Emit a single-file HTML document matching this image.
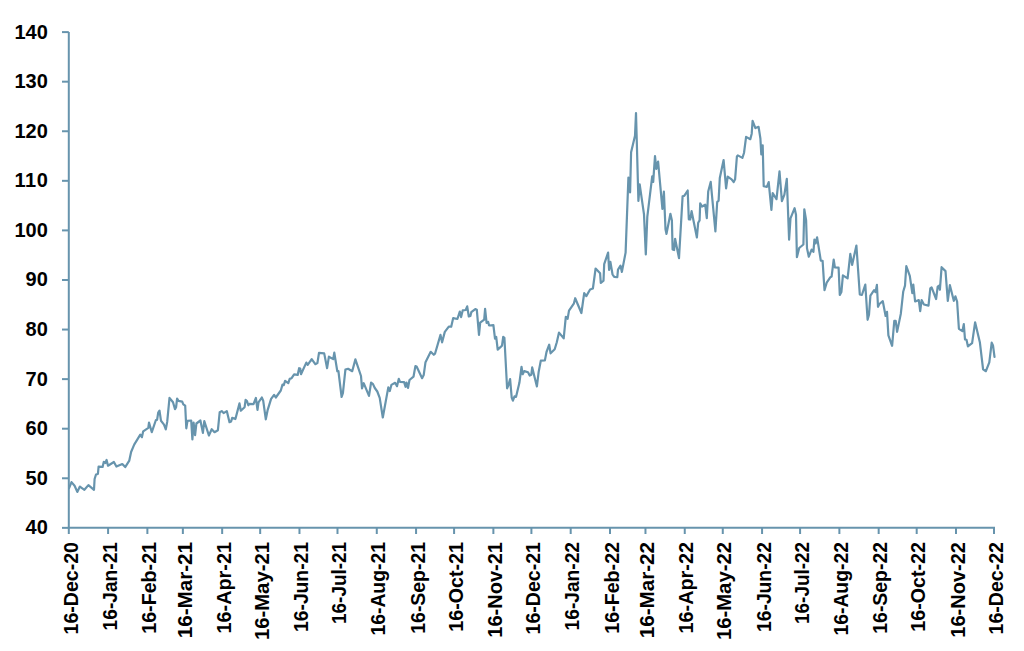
<!DOCTYPE html>
<html><head><meta charset="utf-8"><style>
html,body{margin:0;padding:0;background:#fff;width:1024px;height:651px;overflow:hidden}
svg{display:block}
text{font-family:"Liberation Sans",sans-serif;font-weight:bold;fill:#000}
.yl{font-size:20px}
.xl{font-size:20px}
</style></head><body>
<svg width="1024" height="651" viewBox="0 0 1024 651">
<line x1="68.8" y1="32.1" x2="68.8" y2="527.85" stroke="#6794ad" stroke-width="2"/>
<line x1="67.8" y1="527.85" x2="995.0" y2="527.85" stroke="#6794ad" stroke-width="2"/>
<line x1="62" y1="527.85" x2="68.8" y2="527.85" stroke="#6794ad" stroke-width="2"/>
<text x="47.8" y="527.25" text-anchor="end" dominant-baseline="central" class="yl">40</text>
<line x1="62" y1="478.28" x2="68.8" y2="478.28" stroke="#6794ad" stroke-width="2"/>
<text x="47.8" y="477.68" text-anchor="end" dominant-baseline="central" class="yl">50</text>
<line x1="62" y1="428.70" x2="68.8" y2="428.70" stroke="#6794ad" stroke-width="2"/>
<text x="47.8" y="428.10" text-anchor="end" dominant-baseline="central" class="yl">60</text>
<line x1="62" y1="379.12" x2="68.8" y2="379.12" stroke="#6794ad" stroke-width="2"/>
<text x="47.8" y="378.52" text-anchor="end" dominant-baseline="central" class="yl">70</text>
<line x1="62" y1="329.55" x2="68.8" y2="329.55" stroke="#6794ad" stroke-width="2"/>
<text x="47.8" y="328.95" text-anchor="end" dominant-baseline="central" class="yl">80</text>
<line x1="62" y1="279.98" x2="68.8" y2="279.98" stroke="#6794ad" stroke-width="2"/>
<text x="47.8" y="279.38" text-anchor="end" dominant-baseline="central" class="yl">90</text>
<line x1="62" y1="230.40" x2="68.8" y2="230.40" stroke="#6794ad" stroke-width="2"/>
<text x="47.8" y="229.80" text-anchor="end" dominant-baseline="central" class="yl">100</text>
<line x1="62" y1="180.83" x2="68.8" y2="180.83" stroke="#6794ad" stroke-width="2"/>
<text x="47.8" y="180.23" text-anchor="end" dominant-baseline="central" class="yl" textLength="33.375">110</text>
<line x1="62" y1="131.25" x2="68.8" y2="131.25" stroke="#6794ad" stroke-width="2"/>
<text x="47.8" y="130.65" text-anchor="end" dominant-baseline="central" class="yl">120</text>
<line x1="62" y1="81.68" x2="68.8" y2="81.68" stroke="#6794ad" stroke-width="2"/>
<text x="47.8" y="81.08" text-anchor="end" dominant-baseline="central" class="yl">130</text>
<line x1="62" y1="32.10" x2="68.8" y2="32.10" stroke="#6794ad" stroke-width="2"/>
<text x="47.8" y="31.50" text-anchor="end" dominant-baseline="central" class="yl">140</text>
<line x1="68.80" y1="527.85" x2="68.80" y2="534" stroke="#6794ad" stroke-width="2"/>
<text transform="translate(77.50,542.0) rotate(-90)" text-anchor="end" class="xl" textLength="92.42" lengthAdjust="spacingAndGlyphs">16-Dec-20</text>
<line x1="108.09" y1="527.85" x2="108.09" y2="534" stroke="#6794ad" stroke-width="2"/>
<text transform="translate(116.79,542.0) rotate(-90)" text-anchor="end" class="xl" textLength="88.38" lengthAdjust="spacingAndGlyphs">16-Jan-21</text>
<line x1="147.38" y1="527.85" x2="147.38" y2="534" stroke="#6794ad" stroke-width="2"/>
<text transform="translate(156.08,542.0) rotate(-90)" text-anchor="end" class="xl" textLength="91.78" lengthAdjust="spacingAndGlyphs">16-Feb-21</text>
<line x1="182.87" y1="527.85" x2="182.87" y2="534" stroke="#6794ad" stroke-width="2"/>
<text transform="translate(191.57,542.0) rotate(-90)" text-anchor="end" class="xl" textLength="96.29" lengthAdjust="spacingAndGlyphs">16-Mar-21</text>
<line x1="222.16" y1="527.85" x2="222.16" y2="534" stroke="#6794ad" stroke-width="2"/>
<text transform="translate(230.86,542.0) rotate(-90)" text-anchor="end" class="xl" textLength="91.47" lengthAdjust="spacingAndGlyphs">16-Apr-21</text>
<line x1="260.18" y1="527.85" x2="260.18" y2="534" stroke="#6794ad" stroke-width="2"/>
<text transform="translate(268.88,542.0) rotate(-90)" text-anchor="end" class="xl" textLength="98.12" lengthAdjust="spacingAndGlyphs">16-May-21</text>
<line x1="299.47" y1="527.85" x2="299.47" y2="534" stroke="#6794ad" stroke-width="2"/>
<text transform="translate(308.17,542.0) rotate(-90)" text-anchor="end" class="xl" textLength="89.97" lengthAdjust="spacingAndGlyphs">16-Jun-21</text>
<line x1="337.49" y1="527.85" x2="337.49" y2="534" stroke="#6794ad" stroke-width="2"/>
<text transform="translate(346.19,542.0) rotate(-90)" text-anchor="end" class="xl" textLength="81.92" lengthAdjust="spacingAndGlyphs">16-Jul-21</text>
<line x1="376.78" y1="527.85" x2="376.78" y2="534" stroke="#6794ad" stroke-width="2"/>
<text transform="translate(385.48,542.0) rotate(-90)" text-anchor="end" class="xl" textLength="93.60" lengthAdjust="spacingAndGlyphs">16-Aug-21</text>
<line x1="416.07" y1="527.85" x2="416.07" y2="534" stroke="#6794ad" stroke-width="2"/>
<text transform="translate(424.77,542.0) rotate(-90)" text-anchor="end" class="xl" textLength="91.70" lengthAdjust="spacingAndGlyphs">16-Sep-21</text>
<line x1="454.09" y1="527.85" x2="454.09" y2="534" stroke="#6794ad" stroke-width="2"/>
<text transform="translate(462.79,542.0) rotate(-90)" text-anchor="end" class="xl" textLength="89.76" lengthAdjust="spacingAndGlyphs">16-Oct-21</text>
<line x1="493.38" y1="527.85" x2="493.38" y2="534" stroke="#6794ad" stroke-width="2"/>
<text transform="translate(502.08,542.0) rotate(-90)" text-anchor="end" class="xl" textLength="95.71" lengthAdjust="spacingAndGlyphs">16-Nov-21</text>
<line x1="531.40" y1="527.85" x2="531.40" y2="534" stroke="#6794ad" stroke-width="2"/>
<text transform="translate(540.10,542.0) rotate(-90)" text-anchor="end" class="xl" textLength="92.42" lengthAdjust="spacingAndGlyphs">16-Dec-21</text>
<line x1="570.69" y1="527.85" x2="570.69" y2="534" stroke="#6794ad" stroke-width="2"/>
<text transform="translate(579.39,542.0) rotate(-90)" text-anchor="end" class="xl" textLength="88.38" lengthAdjust="spacingAndGlyphs">16-Jan-22</text>
<line x1="609.98" y1="527.85" x2="609.98" y2="534" stroke="#6794ad" stroke-width="2"/>
<text transform="translate(618.68,542.0) rotate(-90)" text-anchor="end" class="xl" textLength="91.78" lengthAdjust="spacingAndGlyphs">16-Feb-22</text>
<line x1="645.47" y1="527.85" x2="645.47" y2="534" stroke="#6794ad" stroke-width="2"/>
<text transform="translate(654.17,542.0) rotate(-90)" text-anchor="end" class="xl" textLength="96.29" lengthAdjust="spacingAndGlyphs">16-Mar-22</text>
<line x1="684.76" y1="527.85" x2="684.76" y2="534" stroke="#6794ad" stroke-width="2"/>
<text transform="translate(693.46,542.0) rotate(-90)" text-anchor="end" class="xl" textLength="91.47" lengthAdjust="spacingAndGlyphs">16-Apr-22</text>
<line x1="722.78" y1="527.85" x2="722.78" y2="534" stroke="#6794ad" stroke-width="2"/>
<text transform="translate(731.48,542.0) rotate(-90)" text-anchor="end" class="xl" textLength="98.12" lengthAdjust="spacingAndGlyphs">16-May-22</text>
<line x1="762.07" y1="527.85" x2="762.07" y2="534" stroke="#6794ad" stroke-width="2"/>
<text transform="translate(770.77,542.0) rotate(-90)" text-anchor="end" class="xl" textLength="89.97" lengthAdjust="spacingAndGlyphs">16-Jun-22</text>
<line x1="800.09" y1="527.85" x2="800.09" y2="534" stroke="#6794ad" stroke-width="2"/>
<text transform="translate(808.79,542.0) rotate(-90)" text-anchor="end" class="xl" textLength="81.92" lengthAdjust="spacingAndGlyphs">16-Jul-22</text>
<line x1="839.38" y1="527.85" x2="839.38" y2="534" stroke="#6794ad" stroke-width="2"/>
<text transform="translate(848.08,542.0) rotate(-90)" text-anchor="end" class="xl" textLength="93.60" lengthAdjust="spacingAndGlyphs">16-Aug-22</text>
<line x1="878.67" y1="527.85" x2="878.67" y2="534" stroke="#6794ad" stroke-width="2"/>
<text transform="translate(887.37,542.0) rotate(-90)" text-anchor="end" class="xl" textLength="91.70" lengthAdjust="spacingAndGlyphs">16-Sep-22</text>
<line x1="916.69" y1="527.85" x2="916.69" y2="534" stroke="#6794ad" stroke-width="2"/>
<text transform="translate(925.39,542.0) rotate(-90)" text-anchor="end" class="xl" textLength="89.76" lengthAdjust="spacingAndGlyphs">16-Oct-22</text>
<line x1="955.98" y1="527.85" x2="955.98" y2="534" stroke="#6794ad" stroke-width="2"/>
<text transform="translate(964.68,542.0) rotate(-90)" text-anchor="end" class="xl" textLength="95.71" lengthAdjust="spacingAndGlyphs">16-Nov-22</text>
<line x1="994.00" y1="527.85" x2="994.00" y2="534" stroke="#6794ad" stroke-width="2"/>
<text transform="translate(1002.70,542.0) rotate(-90)" text-anchor="end" class="xl" textLength="92.42" lengthAdjust="spacingAndGlyphs">16-Dec-22</text>
<polyline points="69.1,488.2 71.5,482.1 74.6,485.7 77.3,491.9 79.9,486.6 84.4,489.8 88.4,485.1 94.0,489.8 94.6,479.0 96.0,474.5 97.9,474.0 98.6,466.7 102.6,466.9 103.8,461.8 105.3,463.0 106.6,459.9 108.0,465.7 113.9,462.0 116.4,466.5 122.3,464.0 125.2,467.1 129.3,460.6 131.1,452.0 134.2,444.6 140.3,434.7 141.9,437.2 143.2,431.3 148.3,427.9 149.0,422.6 151.8,432.2 155.9,420.0 157.1,419.8 158.2,412.6 159.5,410.6 161.0,420.8 164.0,424.6 165.8,429.4 167.2,421.9 169.5,397.9 173.0,402.3 175.0,409.1 176.1,407.1 177.1,398.6 178.5,400.9 182.2,401.6 183.3,404.4 185.2,405.7 186.3,428.3 187.5,420.9 191.2,420.5 192.4,439.4 193.6,422.6 195.1,435.2 196.4,423.5 200.4,420.5 202.9,432.9 204.3,421.1 208.9,435.5 211.7,429.2 214.5,432.2 217.9,430.2 219.7,412.2 221.7,411.1 223.6,413.1 226.8,411.1 229.5,422.2 231.1,421.5 232.2,417.9 235.4,419.0 239.5,403.4 240.8,410.7 244.6,407.2 245.6,399.9 247.0,401.0 248.3,405.3 249.4,403.9 253.5,404.2 255.9,398.0 257.5,409.8 258.5,402.3 261.8,397.5 263.2,400.7 265.8,419.3 267.7,409.8 271.1,398.9 274.1,394.8 275.8,397.5 280.8,390.5 282.5,384.6 283.8,385.1 285.1,380.8 288.3,383.2 289.7,378.9 291.6,378.2 294.1,374.4 297.7,374.9 299.1,368.2 300.2,368.5 301.0,374.2 306.3,362.6 307.7,364.9 311.7,359.1 315.3,364.2 317.4,363.1 319.0,352.9 324.2,353.4 327.1,368.2 328.9,356.7 333.2,359.1 334.3,352.7 337.3,371.2 338.4,371.0 341.6,397.0 342.9,393.2 345.4,369.6 348.1,368.8 352.2,371.2 355.4,359.4 361.0,376.0 362.0,388.4 363.7,383.2 369.0,395.9 371.1,382.5 373.0,384.1 374.8,388.0 377.3,391.5 379.7,397.8 382.8,417.5 388.3,387.4 389.8,391.1 391.4,384.9 395.1,382.8 397.0,386.2 398.8,378.8 400.0,381.9 404.1,382.1 405.6,386.8 406.5,382.5 408.0,388.0 409.5,380.0 413.5,376.7 415.4,366.1 416.6,366.5 422.1,378.2 423.7,375.1 425.5,362.2 430.7,351.8 433.8,354.8 435.0,353.7 440.5,334.9 442.1,342.3 444.8,331.9 448.8,326.7 451.2,326.7 453.2,318.1 457.4,319.0 459.8,311.6 461.1,317.1 462.7,310.4 465.7,310.0 467.2,306.3 468.8,316.5 470.4,315.9 471.3,312.2 475.3,309.1 476.8,309.7 479.0,334.9 480.2,322.6 484.2,319.6 485.1,308.8 486.6,323.0 488.1,321.8 489.1,325.5 493.4,325.1 495.0,338.6 496.2,336.8 497.7,349.7 502.0,345.6 503.2,336.8 504.4,337.8 507.1,388.3 508.4,385.2 510.1,379.1 511.7,397.5 512.9,400.6 514.5,396.3 516.0,396.9 519.4,382.8 521.5,366.8 522.7,374.2 524.3,371.1 528.0,372.3 529.7,375.6 531.3,374.8 532.2,367.4 536.9,386.4 538.7,371.7 540.8,360.6 544.9,360.4 546.5,352.0 549.2,344.7 550.6,353.3 554.7,349.3 556.8,342.2 559.0,332.6 563.7,338.3 565.8,316.8 567.6,318.9 569.0,310.6 573.8,303.7 575.2,298.2 581.4,313.0 584.2,293.1 586.3,296.1 590.1,289.5 592.9,288.5 595.6,268.5 600.1,273.3 600.8,283.0 603.5,280.6 604.2,264.1 608.1,252.6 609.1,269.9 610.4,261.9 612.5,274.3 614.2,276.8 617.3,277.1 618.0,269.6 620.5,265.7 621.9,271.9 625.6,252.6 628.4,177.5 630.1,192.3 631.1,152.3 635.0,135.7 636.0,113.0 636.6,134.5 638.4,200.9 639.7,184.3 644.0,214.4 645.8,254.4 647.3,216.9 652.2,176.3 653.2,181.8 655.0,156.0 656.3,168.9 658.1,161.6 662.4,208.9 663.9,191.7 665.5,229.2 666.5,233.9 670.4,213.8 671.9,220.6 672.6,249.5 674.1,250.1 675.1,238.8 679.0,258.1 682.6,196.4 684.4,195.7 687.7,190.5 688.8,219.3 690.2,219.5 691.6,211.2 696.9,237.5 698.2,222.7 699.6,220.4 700.2,203.4 702.0,206.5 705.2,204.7 706.8,218.2 708.2,191.6 710.7,181.9 715.4,231.4 717.2,202.0 718.6,200.6 719.8,177.9 723.6,160.0 726.1,188.3 727.7,176.6 731.6,179.3 733.7,182.1 735.1,179.3 736.9,156.5 737.8,155.4 742.4,157.9 744.0,153.0 746.1,136.9 750.3,139.2 751.7,133.7 752.6,120.8 755.4,128.1 758.6,126.8 760.4,138.5 761.3,154.4 762.7,145.4 763.7,186.2 766.9,186.9 768.7,182.1 771.4,209.9 772.7,193.0 776.5,199.2 779.5,171.4 781.9,201.1 784.4,194.7 786.8,178.8 789.1,239.7 790.5,218.3 794.6,208.2 796.0,214.8 796.9,257.2 799.2,248.0 803.4,244.5 804.3,209.3 806.1,220.3 807.0,248.3 808.8,256.7 811.6,249.6 813.4,251.8 814.4,239.7 815.6,243.4 817.1,237.3 820.8,260.6 822.6,260.9 824.5,290.1 826.7,282.7 830.4,277.2 831.6,276.6 833.7,259.6 834.9,267.4 838.6,267.7 839.8,295.0 841.4,291.9 842.9,275.4 847.6,278.4 850.3,253.9 852.1,264.9 856.4,245.6 859.8,294.4 861.9,295.0 865.3,284.6 867.6,319.8 869.0,314.6 870.4,295.7 874.1,290.2 875.5,292.1 876.9,284.9 878.0,306.8 879.4,304.0 882.8,301.2 885.6,316.0 887.0,311.9 888.4,335.4 892.1,345.8 894.3,320.9 895.7,320.9 897.1,331.9 900.8,313.9 903.2,291.8 905.0,285.6 906.3,266.2 909.8,275.9 912.3,293.2 913.3,284.6 915.1,301.5 918.8,300.1 920.2,311.2 921.6,300.1 923.9,304.5 928.5,305.6 930.3,288.4 931.6,287.4 936.1,299.0 937.7,286.6 939.1,285.6 939.9,289.7 941.6,267.2 945.5,271.1 947.8,300.8 949.9,285.2 953.8,300.8 955.4,296.3 957.1,301.5 958.9,328.8 962.4,331.1 963.8,324.2 965.0,339.4 966.5,339.8 967.9,346.3 972.1,343.1 975.1,322.3 979.9,342.6 983.1,369.4 985.9,371.2 989.3,362.4 991.7,342.6 993.0,345.4 994.5,356.9" fill="none" stroke="#6794ad" stroke-width="2.2" stroke-linejoin="round" stroke-linecap="round"/>
</svg></body></html>
